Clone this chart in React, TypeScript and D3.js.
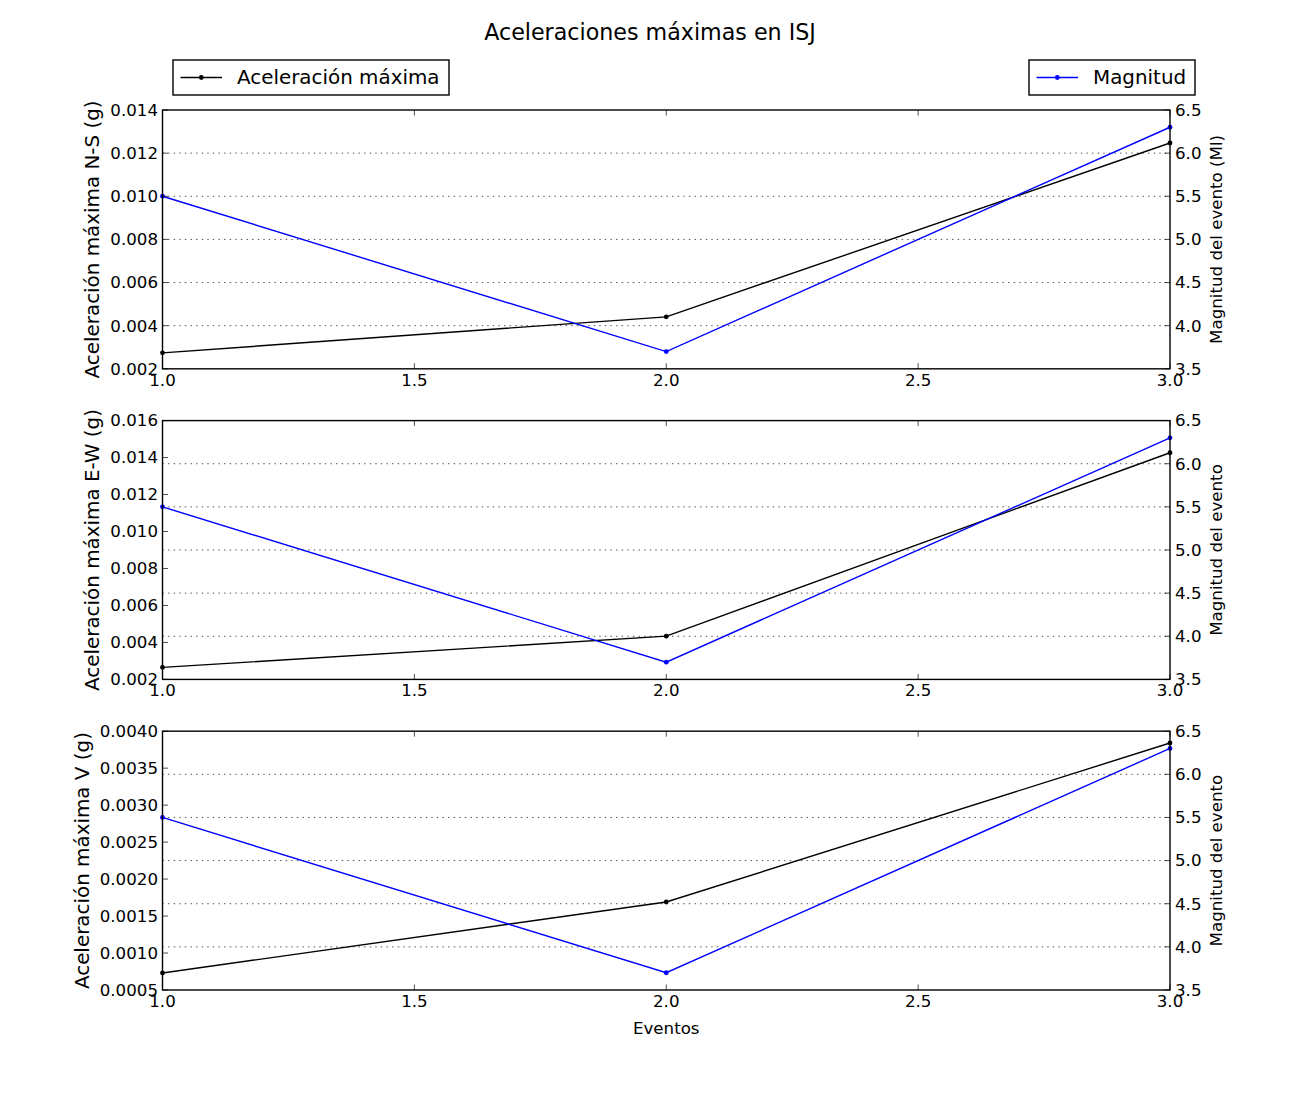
import React from 'react'
import * as d3 from 'd3'

// datos
const eventos = [1, 2, 3]
const magnitud = [5.5, 3.7, 6.3]
const accNS = [0.00274, 0.00441, 0.01247]
const accEW = [0.00265, 0.00434, 0.01426]
const accV = [0.00073, 0.00169, 0.00384]

const xTicks = [1.0, 1.5, 2.0, 2.5, 3.0]
const magTicks = [3.5, 4.0, 4.5, 5.0, 5.5, 6.0, 6.5]
const nsTicks = [0.002, 0.004, 0.006, 0.008, 0.010, 0.012, 0.014]
const ewTicks = [0.002, 0.004, 0.006, 0.008, 0.010, 0.012, 0.014, 0.016]
const vTicks = [0.0005, 0.0010, 0.0015, 0.0020, 0.0025, 0.0030, 0.0035, 0.0040]

const panels = [
  { acc: accNS, ticks: nsTicks, digits: 3, label: 'Aceleración máxima N-S (g)', right: 'Magnitud del evento (Ml)' },
  { acc: accEW, ticks: ewTicks, digits: 3, label: 'Aceleración máxima E-W (g)', right: 'Magnitud del evento' },
  { acc: accV, ticks: vTicks, digits: 4, label: 'Aceleración máxima V (g)', right: 'Magnitud del evento' },
]

const W = 1300
const H = 1100
const left = 162.5
const right = 1170
const top = 110
const bottom = 990
const ph = (bottom - top) / 3.4
const gap = ph * 0.2
const font = 'DejaVu Sans, sans-serif'
const tickFs = 16.67
const bigFs = 19.9
const tickLen = 5.5
const blue = '#0000ff'

const x = d3.scaleLinear().domain([1, 3]).range([left, right])

const Panel: React.FC<{ i: number }> = ({ i }) => {
  const p = panels[i]
  const y0 = top + i * (ph + gap)
  const y1 = y0 + ph
  const yL = d3.scaleLinear().domain(d3.extent(p.ticks) as [number, number]).range([y1, y0])
  const yR = d3.scaleLinear().domain(d3.extent(magTicks) as [number, number]).range([y1, y0])

  const lineAcc = d3.line<number>().x((_, k) => x(eventos[k])).y(d => yL(d))
  const lineMag = d3.line<number>().x((_, k) => x(eventos[k])).y(d => yR(d))

  const fmtL = d3.format(`.${p.digits}f`)
  const labW = (p.digits + 1) * 0.636 * tickFs + 0.318 * tickFs
  const leftLabelX = 158 - labW - 18
  const midY = (y0 + y1) / 2

  return (
    <g>
      {/* rejilla del eje derecho */}
      {magTicks.slice(1, -1).map(t => (
        <line key={'g' + t} x1={left} x2={right} y1={yR(t)} y2={yR(t)}
          stroke='#000' strokeWidth={0.7} strokeDasharray='1.4,4.2' />
      ))}
      <path d={lineAcc(p.acc) ?? ''} fill='none' stroke='#000' strokeWidth={1.4} />
      {p.acc.map((d, k) => (
        <circle key={'a' + k} cx={x(eventos[k])} cy={yL(d)} r={2.4} fill='#000' />
      ))}
      <path d={lineMag(magnitud) ?? ''} fill='none' stroke={blue} strokeWidth={1.4} />
      {magnitud.map((d, k) => (
        <circle key={'m' + k} cx={x(eventos[k])} cy={yR(d)} r={2.4} fill={blue} />
      ))}
      <rect x={left} y={y0} width={right - left} height={ph} fill='none' stroke='#000' strokeWidth={1.4} />
      {/* ticks x arriba y abajo */}
      {xTicks.map(t => (
        <g key={'x' + t}>
          <line x1={x(t)} x2={x(t)} y1={y1} y2={y1 - tickLen} stroke='#000' strokeWidth={0.7} />
          <line x1={x(t)} x2={x(t)} y1={y0} y2={y0 + tickLen} stroke='#000' strokeWidth={0.7} />
          <text x={x(t)} y={y1 + 17} textAnchor='middle' fontSize={tickFs}>{t.toFixed(1)}</text>
        </g>
      ))}
      {p.ticks.map(t => (
        <g key={'l' + t}>
          <line x1={left} x2={left + tickLen} y1={yL(t)} y2={yL(t)} stroke='#000' strokeWidth={0.7} />
          <text x={158} y={yL(t)} dy='0.35em' textAnchor='end' fontSize={tickFs}>{fmtL(t)}</text>
        </g>
      ))}
      {magTicks.map(t => (
        <g key={'r' + t}>
          <line x1={right} x2={right - tickLen} y1={yR(t)} y2={yR(t)} stroke='#000' strokeWidth={0.7} />
          <text x={1175} y={yR(t)} dy='0.35em' textAnchor='start' fontSize={tickFs}>{t.toFixed(1)}</text>
        </g>
      ))}
      <text transform={`translate(${leftLabelX}, ${midY}) rotate(-90)`} dy='0.35em'
        textAnchor='middle' fontSize={bigFs}>{p.label}</text>
      <text transform={`translate(1216, ${midY}) rotate(-90)`} dy='0.35em'
        textAnchor='middle' fontSize={tickFs}>{p.right}</text>
    </g>
  )
}

const Legend: React.FC<{ x0: number; x1: number; color: string; label: string }> = ({ x0, x1, color, label }) => (
  <g>
    <rect x={x0} y={60} width={x1 - x0} height={35} fill='#fff' stroke='#000' strokeWidth={1.4} />
    <line x1={x0 + 7.5} x2={x0 + 49} y1={77.5} y2={77.5} stroke={color} strokeWidth={1.4} />
    <circle cx={x0 + 28.3} cy={77.5} r={2.4} fill={color} />
    <text x={x0 + 64} y={77.5} dy='0.35em' fontSize={bigFs}>{label}</text>
  </g>
)

const App: React.FC = () => (
  <svg width={W} height={H} style={{ position: 'absolute', left: 0, top: 0, background: '#fff' }}
    fontFamily={font}>
    <rect width={W} height={H} fill='#fff' />
    <text x={650} y={40} textAnchor='middle' fontSize={22.2}>Aceleraciones máximas en ISJ</text>
    <Legend x0={173} x1={449} color='#000' label='Aceleración máxima' />
    <Legend x0={1029} x1={1195} color={blue} label='Magnitud' />
    {panels.map((_, i) => <Panel key={i} i={i} />)}
    <text x={(left + right) / 2} y={1034} textAnchor='middle' fontSize={tickFs}>Eventos</text>
  </svg>
)

export default App
